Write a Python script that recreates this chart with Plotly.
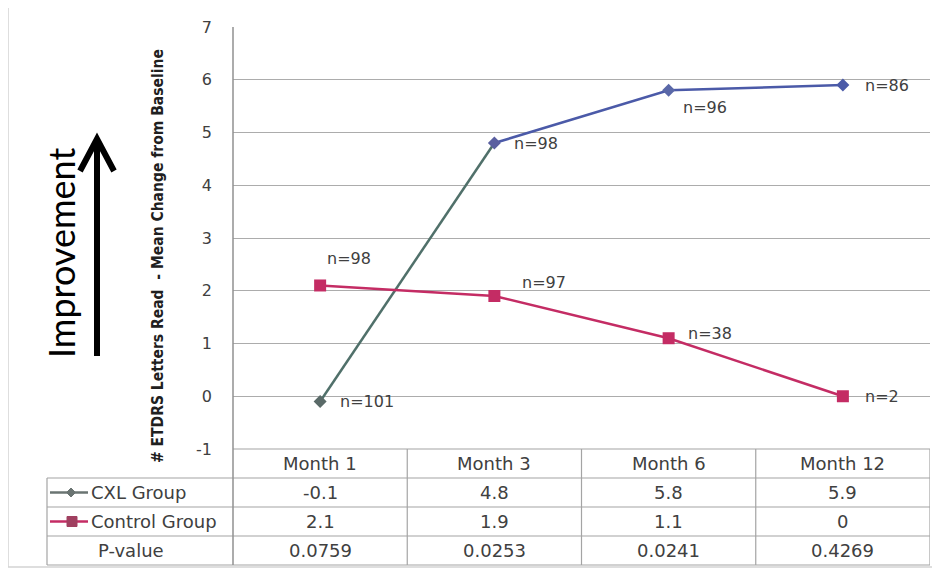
import plotly.graph_objects as go

months = ["Month 1", "Month 3", "Month 6", "Month 12"]
cxl = [-0.1, 4.8, 5.8, 5.9]
control = [2.1, 1.9, 1.1, 0]
cxl_n = ["n=101", "n=98", "n=96", "n=86"]
control_n = ["n=98", "n=97", "n=38", "n=2"]
cxl_txt = ["-0.1", "4.8", "5.8", "5.9"]
control_txt = ["2.1", "1.9", "1.1", "0"]
pvalues = ["0.0759", "0.0253", "0.0241", "0.4269"]
y_ticks = [-1, 0, 1, 2, 3, 4, 5, 6, 7]
y_ticktext = ["-1", "0", "1", "2", "3", "4", "5", "6", "7"]

OFF = 8  # page body margin
W, H = 940 - OFF, 571 - OFF
# plot area in page pixels: x 233..930, y 27..449
L, T = 233 - OFF, 27 - OFF
PW, PH = 697, 422
R = W - L - PW
B = H - T - PH


def px(x):  # page pixel -> paper
    return (x - 233) / PW


def py(y):
    return (449 - y) / PH


GREEN_GRAY = "#50706a"
BLUE = "#4b5aa8"
CRIMSON = "#c42c64"
TXT = "#404040"
GRID = "#acacac"
TLINE = "#a4a4a4"
FONT = "DejaVu Sans"

fig = go.Figure()
fig.add_trace(go.Scatter(x=months[:2], y=cxl[:2], mode="lines",
                         line=dict(color=GREEN_GRAY, width=2.5), showlegend=False))
fig.add_trace(go.Scatter(x=months[1:], y=cxl[1:], mode="lines",
                         line=dict(color=BLUE, width=2.5), showlegend=False))
fig.add_trace(go.Scatter(x=months, y=cxl, mode="markers",
                         marker=dict(symbol="diamond", size=10,
                                     color=["#5a6a68", "#5a5fa0", "#5a68a8", "#4b5aa8"]),
                         showlegend=False))
fig.add_trace(go.Scatter(x=months, y=control, mode="lines+markers",
                         line=dict(color=CRIMSON, width=2.5),
                         marker=dict(symbol="square", size=12, color=CRIMSON),
                         showlegend=False))

ann = []
cxl_off = [(18, 0), (18, 0), (12, -17), (20, 0)]
ctl_off = [(5, 27), (26, 14), (17, 5), (20, 0)]
for m, v, t, (dx, dy) in zip(months, cxl, cxl_n, cxl_off):
    ann.append(dict(x=m, y=v, xref="x", yref="y", text=t, showarrow=False,
                    xanchor="left", yanchor="middle", xshift=dx, yshift=dy,
                    font=dict(family=FONT, size=16, color=TXT)))
for m, v, t, (dx, dy) in zip(months, control, control_n, ctl_off):
    ann.append(dict(x=m, y=v, xref="x", yref="y", text=t, showarrow=False,
                    xanchor="left", yanchor="middle", xshift=dx, yshift=dy,
                    font=dict(family=FONT, size=16, color=TXT)))

row_y = [py(463.5), py(492.5), py(521.5), py(550.5)]
rows = [months, cxl_txt, control_txt, pvalues]
for ry, vals in zip(row_y, rows):
    for m, t in zip(months, vals):
        ann.append(dict(x=m, y=ry, xref="x", yref="paper", text=t, showarrow=False,
                        xanchor="center", yanchor="middle",
                        font=dict(family=FONT, size=18, color=TXT)))
ann.append(dict(x=px(89), y=row_y[1], xref="paper", yref="paper", text="CXL Group",
                showarrow=False, xanchor="left", yanchor="middle",
                font=dict(family=FONT, size=18, color=TXT)))
ann.append(dict(x=px(89), y=row_y[2], xref="paper", yref="paper", text="Control Group",
                showarrow=False, xanchor="left", yanchor="middle",
                font=dict(family=FONT, size=18, color=TXT)))
ann.append(dict(x=px(131), y=row_y[3], xref="paper", yref="paper", text="P-value",
                showarrow=False, xanchor="center", yanchor="middle",
                font=dict(family=FONT, size=18, color=TXT)))

ann.append(dict(x=px(158), y=py(256), xref="paper", yref="paper",
                text="# ETDRS Letters Read  - Mean Change from Baseline",
                textangle=-90, showarrow=False, xanchor="center", yanchor="middle",
                font=dict(family="Liberation Sans Narrow, DejaVu Sans Condensed", size=15.5,
                          color="#202020", weight="bold")))
ann.append(dict(x=px(61), y=py(253), xref="paper", yref="paper", text="Improvement",
                textangle=-90, showarrow=False, xanchor="center", yanchor="middle",
                font=dict(family="Lato", size=36, color="#000000")))

shapes = []
shapes.append(dict(type="rect", xref="paper", yref="paper", x0=px(8), x1=px(937),
                   y0=py(567), y1=py(6), line=dict(color="#d4d4d4", width=1.5),
                   layer="below"))
shapes.append(dict(type="line", xref="paper", yref="paper", x0=px(97), x1=px(97),
                   y0=py(356), y1=py(142), line=dict(color="black", width=6)))
shapes.append(dict(type="path", xref="paper", yref="paper",
                   path=f"M {px(80)},{py(171)} L {px(97)},{py(139)} L {px(114)},{py(171)}",
                   line=dict(color="black", width=6)))
for yy, x0 in [(449, 233), (478, 47), (507, 47), (536, 47), (565, 47)]:
    shapes.append(dict(type="line", xref="paper", yref="paper", x0=px(x0), x1=px(930),
                       y0=py(yy), y1=py(yy), line=dict(color=TLINE, width=1.2)))
shapes.append(dict(type="line", xref="paper", yref="paper", x0=px(47), x1=px(47),
                   y0=py(478), y1=py(565), line=dict(color=TLINE, width=1.2)))
shapes.append(dict(type="line", xref="paper", yref="paper", x0=0, x1=0,
                   y0=py(565), y1=1, line=dict(color="#909090", width=1.5)))
for xb in [0.5, 1.5, 2.5, 3.5]:
    shapes.append(dict(type="line", xref="x", yref="paper", x0=xb, x1=xb,
                       y0=py(565), y1=0, line=dict(color=TLINE, width=1.2)))
shapes.append(dict(type="line", xref="paper", yref="paper", x0=px(50), x1=px(88),
                   y0=row_y[1], y1=row_y[1], line=dict(color="#6a7472", width=2.5)))
dx, dy = 4.5 / PW, 4.5 / PH
cx, cy = px(71), row_y[1]
shapes.append(dict(type="path", xref="paper", yref="paper",
                   path=f"M {cx-dx},{cy} L {cx},{cy+dy} L {cx+dx},{cy} L {cx},{cy-dy} Z",
                   fillcolor="#6a7472", line=dict(color="#6a7472", width=1)))
shapes.append(dict(type="line", xref="paper", yref="paper", x0=px(50), x1=px(88),
                   y0=row_y[2], y1=row_y[2], line=dict(color=CRIMSON, width=2.5)))
sx, sy = 5 / PW, 5 / PH
cx, cy = px(72), row_y[2]
shapes.append(dict(type="rect", xref="paper", yref="paper", x0=cx - sx, x1=cx + sx,
                   y0=cy - sy, y1=cy + sy, fillcolor="#a04060",
                   line=dict(color="#a04060", width=1)))

fig.update_layout(
    width=W, height=H,
    margin=dict(l=L, r=R, t=T, b=B),
    paper_bgcolor="white", plot_bgcolor="white",
    showlegend=False,
    xaxis=dict(type="category", categoryorder="array", categoryarray=months,
               range=[-0.5, 3.5], showticklabels=False, showgrid=False,
               zeroline=False, showline=False, fixedrange=True),
    yaxis=dict(range=[-1, 7], tickvals=y_ticks, ticktext=y_ticktext, showgrid=True,
               gridcolor=GRID, gridwidth=1.3, zeroline=False, showline=False,
               ticklabelstandoff=20,
               tickfont=dict(family=FONT, size=16, color=TXT)),
    annotations=ann,
    shapes=shapes,
)

fig.write_html("out.html")
